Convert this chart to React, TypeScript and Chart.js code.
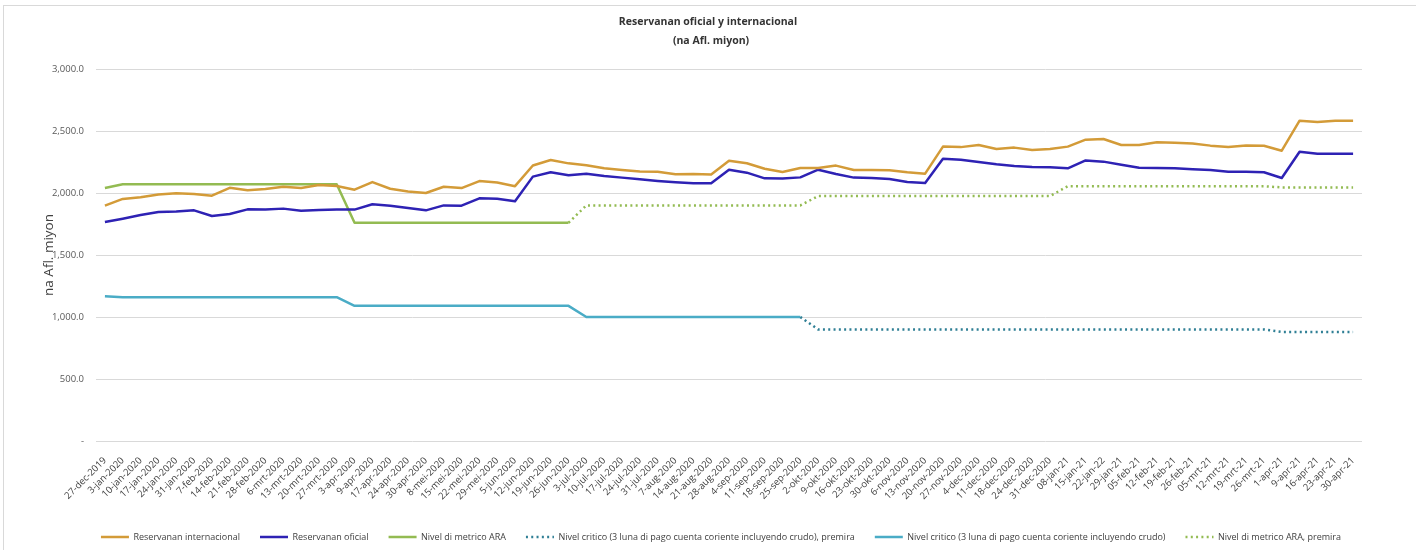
import { useEffect, useRef } from "react";
import { Chart, registerables } from "chart.js";

Chart.register(...registerables);

const categories = [
  "27-dec-2019", "3-jan-2020", "10-jan-2020", "17-jan-2020", "24-jan-2020", "31-jan-2020",
  "7-feb-2020", "14-feb-2020", "21-feb-2020", "28-feb-2020", "6-mrt-2020", "13-mrt-2020",
  "20-mrt-2020", "27-mrt-2020", "3-apr-2020", "9-apr-2020", "17-apr-2020", "24-apr-2020",
  "30-apr-2020", "8-mei-2020", "15-mei-2020", "22-mei-2020", "29-mei-2020", "5-jun-2020",
  "12-jun-2020", "19-jun-2020", "26-jun-2020", "3-jul-2020", "10-jul-2020", "17-jul-2020",
  "24-jul-2020", "31-jul-2020", "7-aug-2020", "14-aug-2020", "21-aug-2020", "28-aug-2020",
  "4-sep-2020", "11-sep-2020", "18-sep-2020", "25-sep-2020", "2-okt-2020", "9-okt-2020",
  "16-okt-2020", "23-okt-2020", "30-okt-2020", "6-nov-2020", "13-nov-2020", "20-nov-2020",
  "27-nov-2020", "4-dec-2020", "11-dec-2020", "18-dec-2020", "24-dec-2020", "31-dec-2020",
  "08-jan-21", "15-jan-21", "22-jan-22", "29-jan-21", "05-feb-21", "12-feb-21", "19-feb-21",
  "26-feb-21", "05-mrt-21", "12-mrt-21", "19-mrt-21", "26-mrt-21", "1-apr-21", "9-apr-21",
  "16-apr-21", "23-apr-21", "30-apr-21",
];

const reservananInternacional = [
  1898, 1952, 1965, 1988, 1998, 1992, 1978, 2042, 2022, 2032, 2050, 2040,
  2065, 2056, 2027, 2088, 2034, 2012, 2000, 2050, 2040, 2096, 2085, 2055,
  2222, 2266, 2239, 2223, 2199, 2186, 2173, 2172, 2151, 2153, 2150, 2260,
  2240, 2196, 2169, 2202, 2202, 2221, 2186, 2186, 2183, 2167, 2156, 2374,
  2370, 2387, 2355, 2366, 2347, 2355, 2374, 2430, 2435, 2387, 2387, 2409,
  2405, 2400, 2382, 2371, 2384, 2381, 2341, 2583, 2573, 2582, 2582,
];

const reservananOficial = [
  1766, 1793, 1822, 1847, 1850, 1860, 1814, 1831, 1868, 1866, 1874, 1857,
  1863, 1866, 1866, 1909, 1898, 1879, 1860, 1900, 1898, 1957, 1954, 1933,
  2132, 2167, 2143, 2156, 2137, 2124, 2110, 2097, 2086, 2078, 2078, 2188,
  2164, 2118, 2116, 2126, 2188, 2153, 2124, 2121, 2113, 2089, 2081, 2277,
  2268, 2250, 2231, 2218, 2210, 2207, 2199, 2263, 2253, 2228, 2204, 2201,
  2199, 2191, 2185, 2172, 2172, 2167, 2121, 2333, 2317, 2317, 2317,
];

const N = null;

const nivelAra = [
  2040, 2070, 2070, 2070, 2070, 2070, 2070, 2070, 2070, 2070, 2070, 2070,
  2070, 2070, 1760, 1760, 1760, 1760, 1760, 1760, 1760, 1760, 1760, 1760,
  1760, 1760, 1760, N, N, N, N, N, N, N, N, N,
  N, N, N, N, N, N, N, N, N, N, N, N,
  N, N, N, N, N, N, N, N, N, N, N, N,
  N, N, N, N, N, N, N, N, N, N, N,
];

const nivelCriticoPremira = [
  N, N, N, N, N, N, N, N, N, N, N, N,
  N, N, N, N, N, N, N, N, N, N, N, N,
  N, N, N, N, N, N, N, N, N, N, N, N,
  N, N, N, 1000, 900, 900, 900, 900, 900, 900, 900, 900,
  900, 900, 900, 900, 900, 900, 900, 900, 900, 900, 900, 900,
  900, 900, 900, 900, 900, 900, 880, 880, 880, 880, 880,
];

const nivelCritico = [
  1168, 1160, 1160, 1160, 1160, 1160, 1160, 1160, 1160, 1160, 1160, 1160,
  1160, 1160, 1090, 1090, 1090, 1090, 1090, 1090, 1090, 1090, 1090, 1090,
  1090, 1090, 1090, 1000, 1000, 1000, 1000, 1000, 1000, 1000, 1000, 1000,
  1000, 1000, 1000, 1000, N, N, N, N, N, N, N, N,
  N, N, N, N, N, N, N, N, N, N, N, N,
  N, N, N, N, N, N, N, N, N, N, N,
];

const nivelAraPremira = [
  N, N, N, N, N, N, N, N, N, N, N, N,
  N, N, N, N, N, N, N, N, N, N, N, N,
  N, N, 1760, 1900, 1900, 1900, 1900, 1900, 1900, 1900, 1900, 1900,
  1900, 1900, 1900, 1900, 1975, 1975, 1975, 1975, 1975, 1975, 1975, 1975,
  1975, 1975, 1975, 1975, 1975, 1975, 2055, 2055, 2055, 2055, 2055, 2055,
  2055, 2055, 2055, 2055, 2055, 2055, 2045, 2045, 2045, 2045, 2045,
];

const yTickValues = [0, 500, 1000, 1500, 2000, 2500, 3000];

const FONT = "'Open Sans', 'Noto Sans', sans-serif";

export default function App() {
  const canvasRef = useRef<HTMLCanvasElement>(null);

  useEffect(() => {
    const canvas = canvasRef.current;
    if (!canvas) return;

    const shiftPlugin = {
      id: "shiftBoxes",
      afterLayout(chart: any) {
        for (const box of chart.boxes) {
          if (box === chart.legend) {
            box.left += 40;
            box.right += 40;
          } else if (box.fullSize && box.position === "top") {
            const s = box === chart.titleBlock ? 27 : 30;
            box.left += s;
            box.right += s;
          }
        }
      },
    };

    const dotted = [2, 3.3];
    const baseGen = (Chart as any).defaults.plugins.legend.labels.generateLabels;

    const chart = new Chart(canvas, {
      type: "line",
      data: {
        labels: categories,
        datasets: [
          {
            label: "Reservanan internacional",
            data: reservananInternacional,
            borderColor: "#D39B38",
            backgroundColor: "#D39B38",
            borderWidth: 2.5,
          },
          {
            label: "Reservanan oficial",
            data: reservananOficial,
            borderColor: "#2E22B4",
            backgroundColor: "#2E22B4",
            borderWidth: 2.5,
          },
          {
            label: "Nivel di metrico ARA",
            data: nivelAra,
            borderColor: "#93BB52",
            backgroundColor: "#93BB52",
            borderWidth: 2.5,
          },
          {
            label: "Nivel critico (3 luna di pago cuenta coriente incluyendo crudo), premira",
            data: nivelCriticoPremira,
            borderColor: "#2F7F95",
            backgroundColor: "#2F7F95",
            borderWidth: 2.5,
            borderDash: dotted,
          },
          {
            label: "Nivel critico (3 luna di pago cuenta coriente incluyendo crudo)",
            data: nivelCritico,
            borderColor: "#4AACC6",
            backgroundColor: "#4AACC6",
            borderWidth: 2.5,
          },
          {
            label: "Nivel di metrico ARA, premira",
            data: nivelAraPremira,
            borderColor: "#93BB52",
            backgroundColor: "#93BB52",
            borderWidth: 2.5,
            borderDash: dotted,
          },
        ] as any,
      },
      options: {
        responsive: false,
        animation: false,
        devicePixelRatio: 1,
        spanGaps: false,
        elements: {
          point: { radius: 0, hoverRadius: 0 },
          line: { tension: 0, borderCapStyle: "butt", borderJoinStyle: "round" },
        },
        layout: { padding: { left: 0, right: 54, top: 0, bottom: -1.5 } },
        plugins: {
          title: {
            display: true,
            text: "Reservanan oficial y internacional",
            color: "#333333",
            font: { family: FONT, size: 10.5, weight: "bold", lineHeight: 1.2 },
            padding: { top: 15.7, bottom: 4 },
          },
          subtitle: {
            display: true,
            text: "(na Afl. miyon)",
            color: "#333333",
            font: { family: FONT, size: 10.5, weight: "bold", lineHeight: 1.2 },
            padding: { top: 2.9, bottom: 21.2 },
          },
          legend: {
            display: true,
            position: "bottom",
            labels: {
              usePointStyle: true,
              pointStyle: "line",
              pointStyleWidth: 28,
              padding: 20,
              color: "#404040",
              font: { family: FONT, size: 9 },
              generateLabels: (c: any) => {
                const items = baseGen(c);
                return items.map((it: any) => {
                  const ds: any = c.data.datasets[it.datasetIndex];
                  return {
                    ...it,
                    lineDash: ds.borderDash || [],
                    lineWidth: 2.5,
                    strokeStyle: ds.borderColor,
                    fillStyle: ds.borderColor,
                    pointStyle: "line",
                  };
                });
              },
            },
          },
          tooltip: { enabled: false },
        },
        scales: {
          x: {
            type: "category",
            offset: true,
            grid: { display: false, drawTicks: false },
            border: { display: false },
            ticks: {
              autoSkip: false,
              maxRotation: 45,
              minRotation: 45,
              padding: 14,
              color: "#404040",
              font: { family: FONT, size: 9.5 },
            },
            afterFit: (s: any) => {
              s.height = 71.5;
            },
          },
          y: {
            min: 0,
            max: 3000,
            afterBuildTicks: (s: any) => {
              s.ticks = yTickValues.map((v) => ({ value: v }));
            },
            grid: { color: "#D9D9D9", lineWidth: 1, drawTicks: false },
            border: { display: false },
            ticks: {
              padding: 12,
              color: "#595959",
              font: { family: FONT, size: 9.5 },
              callback: (v: any) =>
                Number(v) === 0
                  ? "-"
                  : Number(v).toLocaleString("en-US", {
                      minimumFractionDigits: 1,
                      maximumFractionDigits: 1,
                    }),
            },
            title: {
              display: true,
              text: "na Afl. miyon",
              color: "#404040",
              font: { family: FONT, size: 13.5, lineHeight: 1.2 },
              padding: { top: 41.5, bottom: 0 },
            },
            afterFit: (s: any) => {
              s.width = 96;
            },
          },
        },
      },
      plugins: [shiftPlugin],
    });

    return () => {
      chart.destroy();
    };
  }, []);

  return (
    <div
      style={{
        position: "fixed",
        left: 0,
        top: 0,
        width: 1416,
        height: 550,
        background: "#ffffff",
        overflow: "hidden",
      }}
    >
      <canvas ref={canvasRef} width={1416} height={550} style={{ width: 1416, height: 550, display: "block" }} />
      <div
        style={{
          position: "absolute",
          left: 3,
          top: 5,
          right: -2,
          bottom: -2,
          borderTop: "1px solid #D9D9D9",
          borderLeft: "1px solid #D9D9D9",
          pointerEvents: "none",
        }}
      />
    </div>
  );
}
